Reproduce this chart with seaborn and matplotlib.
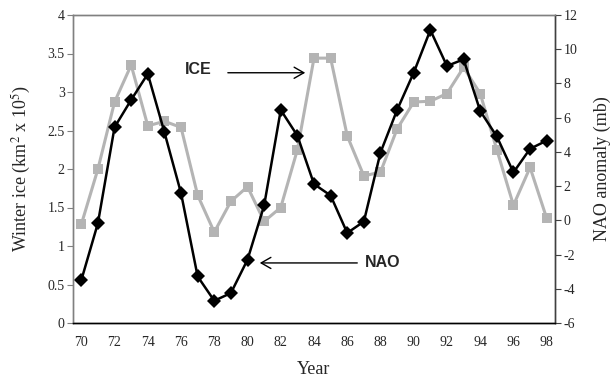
import matplotlib
matplotlib.use("Agg")
import matplotlib.pyplot as plt
import seaborn as sns
import numpy as np

years = list(range(70, 99))
ice = [1.28, 2.00, 2.87, 3.35, 2.56, 2.62, 2.54, 1.66, 1.18, 1.58, 1.77, 1.32, 1.50, 2.25, 3.44, 3.44,
       2.43, 1.91, 1.96, 2.52, 2.87, 2.88, 2.98, 3.32, 2.98, 2.25, 1.53, 2.02, 1.36]
nao = [-3.5, -0.16, 5.44, 7.04, 8.56, 5.15, 1.59, -3.28, -4.7, -4.25, -2.3, 0.87, 6.45, 4.95, 2.12, 1.45,
       -0.74, -0.07, 3.96, 6.45, 8.63, 11.12, 9.02, 9.41, 6.39, 4.9, 2.8, 4.18, 4.66]
xtick_labels = [str(y) for y in range(70, 99, 2)]
left_ticks = [0, 0.5, 1, 1.5, 2, 2.5, 3, 3.5, 4]
right_ticks = list(range(-6, 13, 2))

sns.set_style("white")
plt.rcParams['font.family'] = ['Liberation Serif', 'DejaVu Serif']
plt.rcParams['mathtext.fontset'] = 'stix'

fig = plt.figure(figsize=(6.16, 3.81), dpi=100)
ax = fig.add_axes([73/616, (381-323)/381, (555-73)/616, (323-15)/381])
ax2 = ax.twinx()

sns.lineplot(x=years, y=ice, ax=ax, color='#b4b4b4', lw=2.2, marker='s', markersize=7.5,
             markeredgecolor='#b4b4b4', markeredgewidth=0)
sns.lineplot(x=years, y=nao, ax=ax2, color='black', lw=1.8, marker='D', markersize=7,
             markeredgecolor='black', markeredgewidth=0)

ax.set_xlim(69.5, 98.5)
ax.set_ylim(0, 4)
ax2.set_ylim(-6, 12)
ax.set_yticks(left_ticks)
ax.set_yticklabels(['0', '0.5', '1', '1.5', '2', '2.5', '3', '3.5', '4'])
ax2.set_yticks(right_ticks)
ax2.set_yticklabels([str(v) for v in right_ticks])

ax.set_xticks(np.arange(69.5, 99, 1.0))
ax.set_xticklabels([])
ax.set_xticks(list(range(70, 99, 2)), minor=True)
ax.set_xticklabels(xtick_labels, minor=True)
ax.tick_params(axis='x', which='minor', length=0, pad=9, labelsize=10)
ax.tick_params(axis='x', which='major', length=4, direction='out', width=0.8, color='black')
ax.tick_params(axis='y', length=4, direction='out', width=0.8, color='#808080', labelsize=10, pad=2)
ax2.tick_params(axis='y', length=4, direction='out', width=0.8, color='#404040', labelsize=10, pad=2)

for a in (ax, ax2):
    for s in a.spines.values():
        s.set_linewidth(1.0)
    a.spines['left'].set_color('#808080')
    a.spines['top'].set_color('#808080')
    a.spines['bottom'].set_color('black')
    a.spines['right'].set_color('#404040')
    a.grid(False)

ax.set_xlabel('Year', fontsize=13, labelpad=9)
ax.set_ylabel(r'Winter ice (km$^2$ x 10$^5$)', fontsize=13)
ax2.set_ylabel('NAO anomaly (mb)', fontsize=13)
ax.yaxis.set_label_coords((33 - 73) / 482, 0.5)
ax2.yaxis.set_label_coords((594 - 73) / 482, 0.5)

ax.text(77.05, 3.29, 'ICE', fontsize=11.5, fontweight='bold', family='Liberation Sans',
        ha='center', va='center')
ax.annotate('', xy=(83.64, 3.25), xytext=(78.65, 3.25),
            arrowprops=dict(arrowstyle='->,head_length=0.7,head_width=0.4', color='black', lw=1))
ax.text(88.1, 0.79, 'NAO', fontsize=11.5, fontweight='bold', family='Liberation Sans',
        ha='center', va='center')
ax.annotate('', xy=(80.57, 0.78), xytext=(86.77, 0.78),
            arrowprops=dict(arrowstyle='->,head_length=0.7,head_width=0.4', color='black', lw=1))

fig.savefig('out.png', dpi=100)
